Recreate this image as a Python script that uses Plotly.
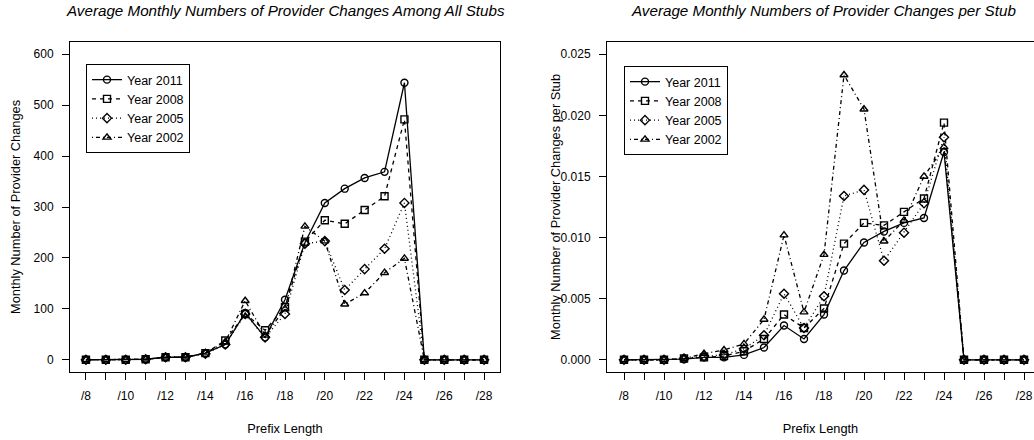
import plotly.graph_objects as go

prefix = list(range(8, 29))
tick_text = [f"/{p}" if p % 2 == 0 else "" for p in prefix]
years = ["Year 2011", "Year 2008", "Year 2005", "Year 2002"]

# Average monthly provider changes among all stubs
all_2011 = [0, 0, 0, 1, 5, 5, 13, 30, 92, 44, 118, 230, 308, 336, 357, 369, 544, 0, 0, 0, 0]
all_2008 = [0, 0, 0, 1, 5, 5, 13, 38, 90, 58, 103, 232, 274, 267, 294, 321, 472, 0, 0, 0, 0]
all_2005 = [0, 0, 0, 1, 5, 5, 12, 30, 90, 44, 90, 228, 233, 137, 178, 218, 308, 0, 0, 0, 0]
all_2002 = [0, 0, 0, 1, 5, 5, 13, 35, 116, 48, 100, 262, 233, 109, 131, 171, 199, 0, 0, 0, 0]

# Average monthly provider changes per stub
per_2011 = [0, 0, 0, 0.00005, 0.0002, 0.0002, 0.0004, 0.0010, 0.0028, 0.0017, 0.0037, 0.0073,
            0.0096, 0.0105, 0.0112, 0.0116, 0.0170, 0, 0, 0, 0]
per_2008 = [0, 0, 0, 0.0001, 0.0002, 0.0003, 0.0007, 0.0017, 0.0037, 0.0026, 0.0042, 0.0095,
            0.0112, 0.0110, 0.0121, 0.0132, 0.0194, 0, 0, 0, 0]
per_2005 = [0, 0, 0, 0.0001, 0.0003, 0.0004, 0.0009, 0.0020, 0.0054, 0.0026, 0.0052, 0.0134,
            0.0139, 0.0081, 0.0104, 0.0128, 0.0182, 0, 0, 0, 0]
per_2002 = [0, 0, 0, 0.0001, 0.0005, 0.0008, 0.0013, 0.0033, 0.0102, 0.0039, 0.0086, 0.0233,
            0.0205, 0.0097, 0.0114, 0.0150, 0.0174, 0, 0, 0, 0]

left_series = [all_2011, all_2008, all_2005, all_2002]
right_series = [per_2011, per_2008, per_2005, per_2002]

symbols = ["circle-open", "square-open", "diamond-open", "triangle-up-open"]
dashes = ["solid", "4px,4px", "1px,3px", "1px,3px,4px,3px"]

FONT = "Liberation Sans, Arial, Helvetica, sans-serif"
W, H = 1034, 440
T, B = 42, 68
PH = H - T - B

fig = go.Figure()
for name, vals, sym, dash in zip(years, left_series, symbols, dashes):
    fig.add_trace(go.Scatter(
        x=prefix, y=vals, name=name, mode="lines+markers",
        line=dict(color="black", width=1.3, dash=dash),
        marker=dict(symbol=sym, size=7, color="black", line=dict(width=1.4, color="black")),
        xaxis="x", yaxis="y", legend="legend"))
for name, vals, sym, dash in zip(years, right_series, symbols, dashes):
    fig.add_trace(go.Scatter(
        x=prefix, y=vals, name=name, mode="lines+markers",
        line=dict(color="black", width=1.3, dash=dash),
        marker=dict(symbol=sym, size=7, color="black", line=dict(width=1.4, color="black")),
        xaxis="x2", yaxis="y2", legend="legend2"))

axis_common = dict(showgrid=False, zeroline=False, showline=True, linecolor="black",
                   linewidth=1, ticks="outside", ticklen=7, tickwidth=1, tickcolor="black",
                   tickfont=dict(family=FONT, size=12, color="black"),
                   ticklabeloverflow="allow")

x_l0, x_l1 = 70, 500
x_r0 = 607

fig.update_layout(
    width=W, height=H,
    margin=dict(l=0, r=0, t=T, b=B),
    paper_bgcolor="white", plot_bgcolor="white",
    font=dict(family=FONT, size=12, color="black"),
    xaxis=dict(domain=[x_l0 / W, x_l1 / W], range=[7.2, 28.8], tickvals=prefix, ticktext=tick_text,
               mirror=True, anchor="y", ticklabelstandoff=6,
               title=dict(text="Prefix Length", standoff=21, font=dict(family=FONT, size=12.8)),
               **axis_common),
    yaxis=dict(domain=[0, 1], range=[-24, 624], tickvals=[0, 100, 200, 300, 400, 500, 600],
               mirror=True, anchor="x", ticklabelstandoff=6, **axis_common),
    xaxis2=dict(domain=[x_r0 / W, 1.0], range=[7.15, 7.15 + (W - x_r0) / 20], tickvals=prefix,
                ticktext=tick_text, mirror=True, anchor="y2", ticklabelstandoff=6,
                title=dict(text="Prefix Length", standoff=21, font=dict(family=FONT, size=12.8)),
                **axis_common),
    yaxis2=dict(domain=[0, 1], range=[-0.001, 0.026],
                tickvals=[0, 0.005, 0.010, 0.015, 0.020, 0.025],
                ticktext=["0.000", "0.005", "0.010", "0.015", "0.020", "0.025"],
                mirror=False, anchor="x2", ticklabelstandoff=6, **axis_common),
    legend=dict(x=86 / W, y=(H - B - 64) / PH, xanchor="left", yanchor="top",
                bordercolor="black", borderwidth=1, bgcolor="white",
                font=dict(family=FONT, size=12.5), tracegroupgap=0),
    legend2=dict(x=624 / W, y=(H - B - 66) / PH, xanchor="left", yanchor="top",
                 bordercolor="black", borderwidth=1, bgcolor="white",
                 font=dict(family=FONT, size=12.5), tracegroupgap=0),
    showlegend=True,
)

title_font = dict(family=FONT, size=15.2, color="black")
fig.add_annotation(text="<i>Average Monthly Numbers of Provider Changes Among All Stubs</i>",
                   x=(x_l0 + x_l1) / 2 / W, y=(H - B - 10) / PH, xref="paper", yref="paper",
                   xanchor="center", yanchor="middle", showarrow=False, font=title_font)
fig.add_annotation(text="<i>Average Monthly Numbers of Provider Changes per Stub</i>",
                   x=823 / W, y=(H - B - 10) / PH, xref="paper", yref="paper",
                   xanchor="center", yanchor="middle", showarrow=False, font=title_font)
fig.add_annotation(text="Monthly Number of Provider Changes", textangle=-90,
                   x=15 / W, y=0.5, xref="paper", yref="paper",
                   xanchor="center", yanchor="middle", showarrow=False,
                   font=dict(family=FONT, size=12.8, color="black"))
fig.add_annotation(text="Monthly Number of Provider Changes per Stub", textangle=-90,
                   x=555 / W, y=0.5, xref="paper", yref="paper",
                   xanchor="center", yanchor="middle", showarrow=False,
                   font=dict(family=FONT, size=12.8, color="black"))

fig.write_html("out.html", config={"displayModeBar": False},
               post_script="document.body.style.margin='0px';")
